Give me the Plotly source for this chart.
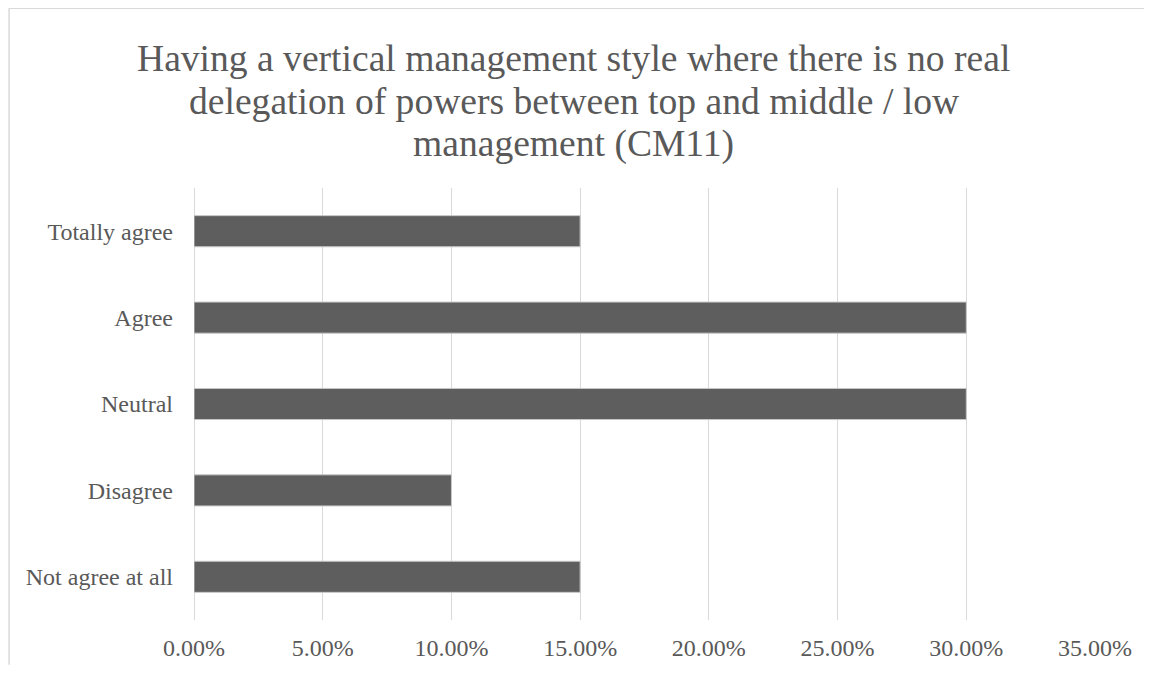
import plotly.graph_objects as go

categories = ["Not agree at all", "Disagree", "Neutral", "Agree", "Totally agree"]
values = [0.15, 0.10, 0.30, 0.30, 0.15]
x_ticks = [0, 0.05, 0.10, 0.15, 0.20, 0.25, 0.30, 0.35]
title_lines = [
    "Having a vertical management style where there is no real",
    "delegation of powers between top and middle / low",
    "management (CM11)",
]

# page has an 8px body margin; figure sized to fit the 1152x673 window
W, H = 1136, 657
L, T = 185.5, 180.3
R = W - 1087
B = H - 612.3
pw, ph = W - L - R, H - T - B

font = "Liberation Serif"
grey = "#595959"

fig = go.Figure()
fig.add_trace(go.Bar(
    y=categories, x=values, orientation="h",
    marker=dict(color="#5e5e5e", line=dict(color="#c8c8c8", width=1)),
    hoverinfo="skip",
))

fig.update_layout(
    width=W, height=H,
    margin=dict(l=L, r=R, t=T, b=B, pad=0),
    paper_bgcolor="white", plot_bgcolor="white",
    showlegend=False,
    bargap=0.64,
    xaxis=dict(range=[0, 0.35], tickvals=x_ticks, tickformat=".2%",
               showgrid=True, gridcolor="#d9d9d9", gridwidth=1,
               zeroline=True, zerolinecolor="#d9d9d9", zerolinewidth=1,
               showline=False, ticks="", automargin=False,
               tickfont=dict(family=font, size=24, color=grey),
               ticklabelstandoff=11),
    yaxis=dict(showgrid=False, zeroline=False, showline=False, ticks="",
               automargin=False,
               tickfont=dict(family=font, size=24, color=grey),
               ticklabelstandoff=20),
)

# title lines (figure y of each line centre)
centres = [50.5, 93.5, 136.5]
for txt, cy in zip(title_lines, centres):
    fig.add_annotation(text=txt, xref="paper", yref="paper",
                       x=(W / 2 - 2.5 - L) / pw, y=1 + (T - cy) / ph,
                       xanchor="center", yanchor="middle", showarrow=False,
                       font=dict(family=font, size=37.6, color=grey))

# chart border, left and top edges (decoration)
ytop = 1 + (T - 0.5) / ph
xleft = (0.5 - L) / pw
fig.add_shape(type="line", xref="paper", yref="paper",
              x0=xleft, x1=(W - L) / pw, y0=ytop, y1=ytop,
              line=dict(color="#d9d9d9", width=1.5), layer="below")
fig.add_shape(type="line", xref="paper", yref="paper",
              x0=xleft, x1=xleft, y0=-(H - T - ph) / ph, y1=ytop,
              line=dict(color="#d9d9d9", width=1.5), layer="below")

fig.write_html("out.html")
